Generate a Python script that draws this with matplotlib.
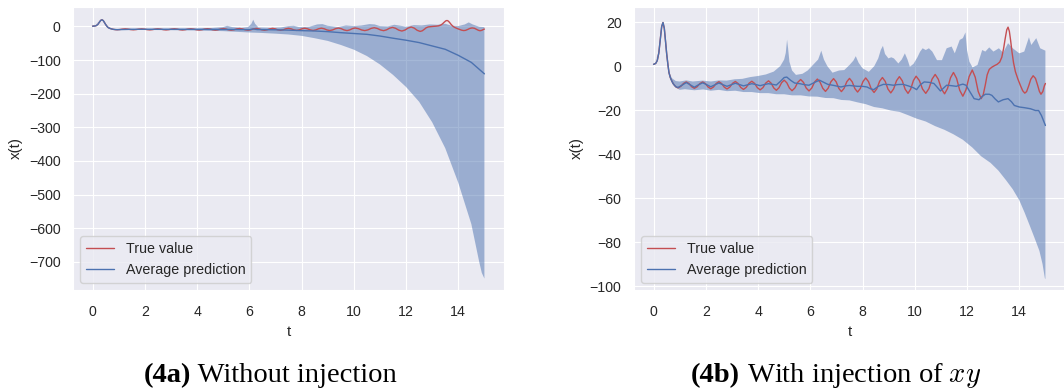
import numpy as np
import matplotlib
matplotlib.use("Agg")
import matplotlib.pyplot as plt
import seaborn as sns

# ---------------- data ----------------
# True value x(t) (same system in both panels)
true_t = [0, 0.08, 0.14, 0.2, 0.26, 0.31, 0.36, 0.41, 0.46, 0.5, 0.55, 0.59, 0.64, 0.69, 0.75, 0.81, 0.87, 0.94,
          1.043, 1.147, 1.25, 1.353, 1.457, 1.56, 1.667, 1.773, 1.88, 1.983, 2.087, 2.19, 2.293, 2.397, 2.5,
          2.603, 2.707, 2.81, 2.917, 3.023, 3.13, 3.233, 3.337, 3.44, 3.547, 3.653, 3.76, 3.867, 3.973, 4.08,
          4.187, 4.293, 4.4, 4.5, 4.6, 4.7, 4.8, 4.9, 5.0, 5.1, 5.2, 5.3, 5.41, 5.52, 5.63, 5.737, 5.843, 5.95,
          6.057, 6.163, 6.27, 6.373, 6.477, 6.58, 6.683, 6.787, 6.89, 6.99, 7.09, 7.19, 7.293, 7.397, 7.5,
          7.603, 7.707, 7.81, 7.913, 8.017, 8.12, 8.227, 8.333, 8.44, 8.547, 8.653, 8.76, 8.867, 8.973, 9.08,
          9.19, 9.3, 9.41, 9.52, 9.63, 9.74, 9.843, 9.947, 10.05, 10.173, 10.297, 10.42, 10.54, 10.66, 10.78,
          10.9, 11.02, 11.14, 11.253, 11.367, 11.48, 11.6, 11.72, 11.84, 11.96, 12.08, 12.2, 12.313, 12.427,
          12.54, 12.62, 12.7, 12.77, 12.85, 12.95, 13.05, 13.15, 13.25, 13.33, 13.4, 13.46, 13.52, 13.57,
          13.62, 13.67, 13.72, 13.78, 13.85, 13.95, 14.05, 14.13, 14.21, 14.28, 14.36, 14.44, 14.53, 14.62,
          14.7, 14.77, 14.83, 14.9, 14.96, 15.0]
true_x = [0.8, 1.2, 2.5, 6.0, 12.5, 18.0, 19.8, 17.2, 11.0, 5.7, 0.5, -3.0, -5.2, -6.6, -8.0, -8.9, -9.6, -9.9,
          -9.225, -7.875, -7.2, -7.925, -9.375, -10.1, -9.375, -7.925, -7.2, -7.975, -9.525, -10.3, -9.5, -7.9, -7.1,
          -7.925, -9.575, -10.4, -9.55, -7.85, -7.0, -7.9, -9.7, -10.6, -9.675, -7.825, -6.9, -7.875, -9.825, -10.8,
          -9.775, -7.725, -6.7, -7.775, -9.925, -11.0, -9.85, -7.55, -6.4, -7.6, -10.0, -11.2, -9.925, -7.375, -6.1, -7.4, -10.0, -11.3,
          -9.95, -7.25, -5.9, -7.3, -10.1, -11.5, -10.05, -7.15, -5.7, -7.175, -10.125, -11.6, -10.1, -7.1, -5.6,
          -7.15, -10.25, -11.8, -10.2, -7.0, -5.4, -7.05, -10.35, -12.0, -10.3, -6.9, -5.2, -6.95, -10.45, -12.2,
          -10.35, -6.65, -4.8, -6.7, -10.5, -12.4, -10.45, -6.55, -4.6, -6.55, -10.45, -12.4, -10.25, -5.95, -3.8,
          -6.0, -10.4, -12.6, -10.175, -5.325, -2.9, -5.6, -11.0, -13.7, -10.725, -4.775, -1.8, -5.05, -11.55,
          -14.8, -13.0, -8.5, -4.0, -1.5, -0.5, 0.2, 0.8, 1.8, 4.0, 8.0, 12.5, 16.5, 17.7,
          15.8, 11.5, 6.5, 1.5, -2.5, -6.0, -9.0, -11.2, -12.3, -11.6, -9.0, -6.0, -4.4, -5.6,
          -8.6, -11.5, -12.8, -11.6, -9.0, -7.9]

# ---- (4a) without injection ----
a_avg_t = [0, 0.08, 0.14, 0.2, 0.26, 0.31, 0.36, 0.41, 0.46, 0.5, 0.55, 0.59, 0.64, 0.69, 0.75, 0.81, 0.94,
           1.5, 2.0, 3.0, 4.0, 5.0, 5.5, 6.0, 6.15, 6.3, 7.0, 7.5, 8.0, 8.5, 9.0, 9.5, 10.0, 10.5, 11.0,
           11.5, 12.0, 12.5, 13.0, 13.5, 14.0, 14.5, 15.0]
a_avg_x = [0.8, 1.2, 2.5, 6.0, 12.5, 18.0, 19.8, 17.2, 11.0, 5.7, 0.5, -3.0, -5.2, -6.6, -8.0, -8.9, -9.6,
           -8.6, -8.5, -8.6, -8.7, -9.0, -9.2, -9.5, -7.5, -9.3, -10.0, -11.0, -12.5, -13.5, -15.5, -18.5, -21.0, -23.5, -28.5,
           -35.0, -41.0, -48.0, -58.0, -68.0, -86.0, -107.0, -141.0]
a_up_t = [0, 0.31, 0.36, 0.41, 0.59, 0.8, 1.5, 3.0, 4.0, 4.6, 5.0, 5.15, 5.35, 5.7, 5.95, 6.08, 6.15, 6.22,
          6.35, 6.8, 7.2, 7.5, 7.7, 7.9, 8.3, 8.6, 8.8, 9.0, 9.4, 9.7, 10.0, 10.3, 10.6, 10.8, 11.0, 11.3,
          11.55, 11.8, 12.0, 12.3, 12.6, 12.9, 13.2, 13.5, 13.75, 14.0, 14.25, 14.4, 14.55, 14.8, 15.0]
a_up_x = [0.8, 18.5, 20.5, 17.5, -2.5, -7.5, -7.0, -6.5, -6.0, -4.5, -2.0, 2.0, -2.0, -4.0, -2.0, 8.0, 20.0, 8.0,
          -3.0, -4.0, -3.0, 1.0, 2.0, -2.0, -1.0, 6.0, 7.0, 2.0, -2.0, 3.0, 1.0, 3.0, 7.0, 6.0, 1.0, 0.0,
          5.0, 2.0, -1.0, 4.0, 3.0, 6.0, 5.0, 8.0, 2.0, 1.0, 6.0, 12.0, 6.0, -1.0, -2.0]
a_lo_t = [0, 0.31, 0.36, 0.41, 0.59, 0.8, 1.5, 2.5, 3.5, 4.0, 5.0, 5.5, 6.0, 6.5, 7.0, 7.5, 8.0, 8.5, 9.0,
          9.5, 10.0, 10.5, 11.0, 11.5, 12.0, 12.5, 13.0, 13.5, 14.0, 14.5, 14.8, 14.9, 15.0]
a_lo_x = [0.8, 17.5, 19.0, 16.8, -4.0, -9.8, -10.5, -10.8, -11.5, -12.0, -14.0, -16.0, -18.0, -19.5, -21.5, -24.0, -28.0, -35.0, -43.0,
          -55.0, -69.0, -88.0, -113.0, -144.0, -180.0, -224.0, -285.0, -362.0, -465.0, -588.0, -700.0, -733.0, -750.0]

# ---- (4b) with injection of xy ----
b_avg_t = [0, 0.08, 0.14, 0.2, 0.26, 0.31, 0.36, 0.41, 0.46, 0.5, 0.55, 0.59, 0.64, 0.69, 0.75, 0.81, 0.87, 0.94,
           1.1, 1.25, 1.4, 1.56, 1.72, 1.88, 2.04, 2.19, 2.35, 2.5, 2.66, 2.81, 2.97, 3.13, 3.29, 3.44, 3.6, 3.76,
           3.92, 4.08, 4.24, 4.4, 4.55, 4.7, 4.85, 5.0, 5.1, 5.25, 5.4, 5.6, 5.8, 5.95, 6.15, 6.35, 6.5, 6.67,
           6.9, 7.17, 7.35, 7.5, 7.8, 8.0, 8.17, 8.3, 8.43, 8.6, 8.8, 9.0, 9.18, 9.35, 9.55, 9.75, 9.94, 10.07,
           10.2, 10.36, 10.55, 10.73, 10.85, 10.98, 11.1, 11.22, 11.4, 11.59, 11.72, 11.84, 11.96, 12.1, 12.27,
           12.46, 12.58, 12.7, 12.85, 12.95, 13.08, 13.2, 13.38, 13.57, 13.7, 13.81, 14.0, 14.19, 14.43, 14.62,
           14.74, 14.85, 15.0]
b_avg_x = [0.8, 1.2, 2.5, 6.0, 12.5, 18.0, 19.8, 17.2, 11.0, 5.7, 0.5, -3.0, -5.2, -6.6, -8.0, -8.9, -9.5, -9.7,
           -8.6, -7.5, -8.5, -9.6, -8.5, -7.6, -8.5, -9.4, -8.5, -7.7, -8.5, -9.2, -8.5, -7.8, -8.4, -9.0, -8.5, -8.0,
           -8.4, -8.9, -8.4, -8.0, -8.3, -8.6, -7.0, -5.2, -5.0, -6.5, -7.7, -8.0, -8.5, -8.7, -7.5, -6.4, -7.3, -8.3,
           -8.8, -9.5, -9.0, -8.8, -9.2, -9.2, -9.5, -10.3, -10.7, -9.2, -8.3, -8.4, -8.7, -8.4, -8.3, -9.0, -9.8, -10.7,
           -8.6, -7.2, -7.4, -7.9, -9.5, -11.3, -10.0, -8.7, -8.9, -9.2, -8.6, -8.2, -8.7, -11.5, -14.8,
           -15.3, -13.8, -12.8, -12.8, -13.3, -15.0, -16.3, -15.3, -14.8, -16.2, -17.9, -18.6, -18.9, -19.4, -20.2,
           -20.2, -22.5, -27.0]
b_up_t = [0, 0.2, 0.31, 0.36, 0.41, 0.5, 0.59, 0.7, 0.85, 1.0, 1.25, 1.5, 1.88, 2.2, 2.5, 2.8, 3.1, 3.4, 3.7,
          4.0, 4.3, 4.6, 4.85, 5.0, 5.06, 5.11, 5.15, 5.2, 5.3, 5.45, 5.7, 5.9, 6.1, 6.3, 6.42, 6.52, 6.65,
          6.85, 7.1, 7.3, 7.5, 7.65, 7.74, 7.85, 8.0, 8.24, 8.45, 8.6, 8.7, 8.78, 8.86, 8.99, 9.1, 9.2, 9.37,
          9.5, 9.62, 9.72, 9.81, 9.95, 10.1, 10.2, 10.3, 10.42, 10.54, 10.67, 10.85, 11.04, 11.22, 11.41,
          11.53, 11.72, 11.84, 11.94, 12.0, 12.09, 12.21, 12.4, 12.58, 12.7, 12.85, 13.01, 13.22, 13.38,
          13.57, 13.75, 14.0, 14.19, 14.37, 14.46, 14.65, 14.8, 15.0]
b_up_x = [0.8, 6.2, 18.3, 20.0, 17.5, 6.0, -2.5, -5.5, -6.8, -7.0, -6.5, -7.0, -6.6, -7.0, -6.5, -6.6, -6.0, -5.8, -5.0,
          -4.5, -3.8, -2.5, 0.0, 3.0, 6.0, 12.0, 8.0, 2.0, -2.0, -4.0, -3.5, -2.0, 0.5, 3.0, 7.0, 3.0, 0.0,
          -3.0, -2.0, -1.8, 0.5, 2.5, 4.5, 1.5, -1.0, -2.6, 0.0, 3.5, 7.4, 9.2, 5.5, 3.5, 4.0, 3.5, 1.2,
          3.0, 5.8, 3.0, -0.3, 1.0, 4.0, 6.5, 8.1, 7.3, 8.1, 6.6, 2.7, 2.7, 8.1, 8.9,
          5.8, 11.9, 12.7, 15.3, 7.3, 2.0, -0.6, 0.5, 7.3, 6.6, 8.5, 6.6, 8.1, 6.1,
          10.4, 8.1, 5.8, 6.6, 13.1, 9.6, 12.7, 8.1, 7.0]
b_lo_t = [0, 0.2, 0.31, 0.36, 0.41, 0.5, 0.59, 0.7, 0.85, 1.0, 1.2, 1.56, 1.9, 2.19, 2.5, 2.81, 3.13, 3.44,
          3.76, 4.08, 4.4, 4.7, 5.0, 5.3, 5.63, 5.95, 6.27, 6.58, 6.89, 7.19, 7.5, 7.81, 8.12, 8.44, 8.76,
          9.08, 9.41, 9.74, 10.05, 10.42, 10.78, 11.14, 11.48, 11.84, 12.2, 12.54, 12.9, 13.2, 13.5, 13.75,
          14.0, 14.2, 14.4, 14.58, 14.77, 14.89, 14.98, 15.0]
b_lo_x = [0.8, 5.8, 17.5, 19.5, 16.8, 5.2, -4.0, -7.5, -9.8, -10.8, -10.5, -11.0, -10.6, -11.2, -10.8, -11.4, -11.2, -11.8,
          -11.8, -12.3, -12.3, -12.8, -12.8, -13.3, -13.3, -13.8, -13.9, -14.5, -14.6, -15.4, -15.6, -16.5, -17.3, -18.6, -19.2,
          -20.2, -20.8, -22.3, -23.8, -25.2, -27.3, -29.0, -31.0, -33.5, -37.0, -41.0, -44.0, -47.5, -52.0, -56.0,
          -61.0, -66.5, -72.5, -78.0, -84.0, -90.0, -96.5, -96.8]

x_ticks = [0, 2, 4, 6, 8, 10, 12, 14]
legend_labels = ["True value", "Average prediction"]
captions = [("(4a)", " Without injection"), ("(4b)", " With injection of $xy$")]

# ---------------- style ----------------
sns.set_style("darkgrid")
plt.rcParams['font.family'] = ['Liberation Sans', 'DejaVu Sans']
plt.rcParams['mathtext.fontset'] = 'cm'
RED = '#C44E52'
BLUE = '#4C72B0'
TXT = '#262626'

W, H = 1064, 392
fig = plt.figure(figsize=(W / 100, H / 100), dpi=100)
ax_a = fig.add_axes([73 / W, (H - 290) / H, 431 / W, (290 - 6.7) / H])
ax_b = fig.add_axes([634 / W, (H - 290) / H, 431 / W, (290 - 6.7) / H])


def draw(ax, avg_t, avg_x, up_t, up_x, lo_t, lo_x, ylim, yticks):
    poly_t = np.concatenate([np.array(up_t), np.array(lo_t)[::-1]])
    poly_x = np.concatenate([np.array(up_x), np.array(lo_x)[::-1]])
    ax.fill(poly_t, poly_x, color=BLUE, alpha=0.5, linewidth=0)
    ax.plot(true_t, true_x, color=RED, lw=1.0, label=legend_labels[0])
    ax.plot(avg_t, avg_x, color=BLUE, lw=1.0, label=legend_labels[1])
    ax.set_xlim(-0.75, 15.75)
    ax.set_ylim(*ylim)
    ax.set_xticks(x_ticks)
    ax.set_yticks(yticks)
    ax.tick_params(axis='x', length=0, pad=11, labelsize=10.2, labelcolor=TXT)
    ax.tick_params(axis='y', length=0, pad=9, labelsize=10.2, labelcolor=TXT)
    ax.set_xlabel("t", fontsize=10.9, color=TXT, labelpad=4)
    ax.set_ylabel("x(t)", fontsize=10.9, color=TXT, labelpad=4)
    ax.legend(loc='lower left', fontsize=10.3, frameon=True)


draw(ax_a, a_avg_t, a_avg_x, a_up_t, a_up_x, a_lo_t, a_lo_x, (-784, 58.7),
     [-700, -600, -500, -400, -300, -200, -100, 0])
draw(ax_b, b_avg_t, b_avg_x, b_up_t, b_up_x, b_lo_t, b_lo_x, (-101.8, 27.0),
     [-100, -80, -60, -40, -20, 0, 20])

# captions
fig.canvas.draw()
renderer = fig.canvas.get_renderer()
for (bold, rest), x0 in zip(captions, [144, 691]):
    t1 = fig.text(x0 / W, 10 / H, bold, fontsize=20.5, fontweight='bold',
                  family=['Liberation Serif', 'DejaVu Serif'], va='baseline', ha='left', color='black')
    bb = t1.get_window_extent(renderer)
    fig.text(bb.x1 / W, 10 / H, rest, fontsize=20.5,
             family=['Liberation Serif', 'DejaVu Serif'], va='baseline', ha='left', color='black')

fig.savefig("out.png", dpi=100)
